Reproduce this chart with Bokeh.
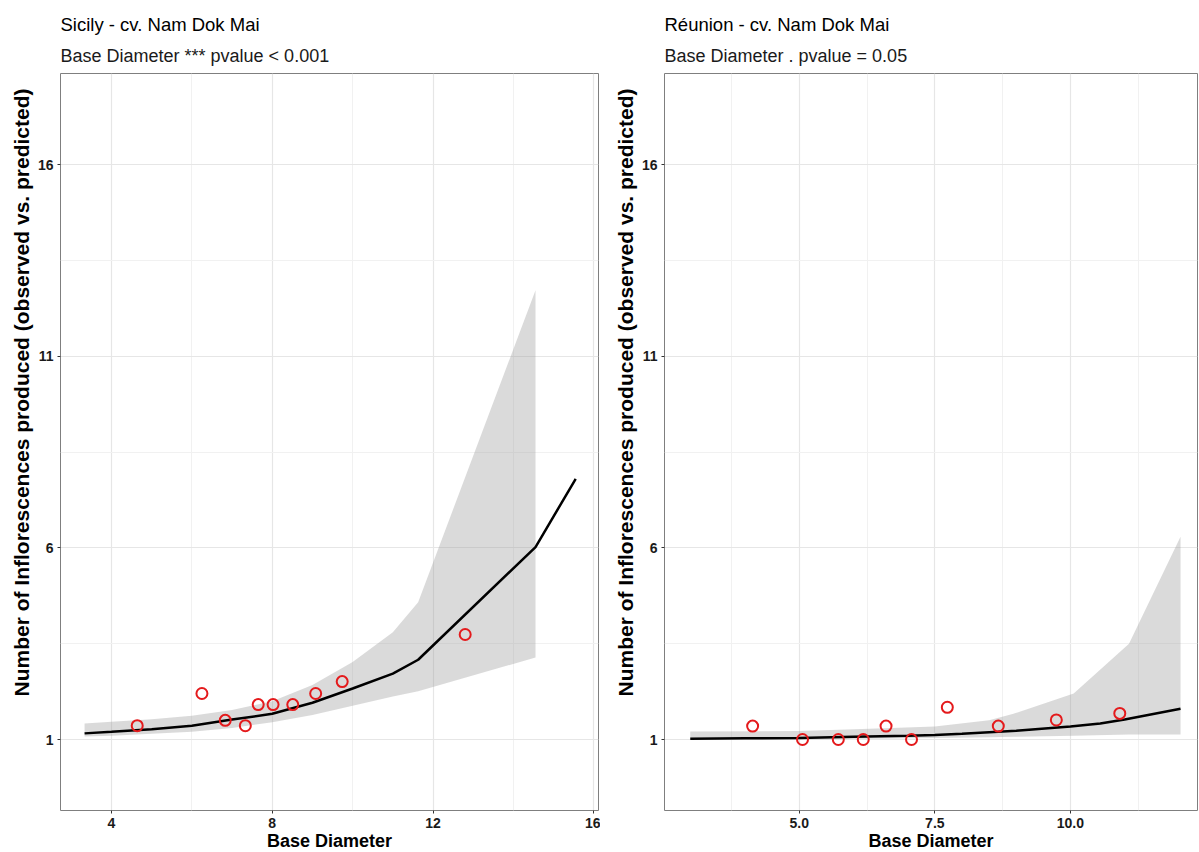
from bokeh.plotting import figure
from bokeh.layouts import row
from bokeh.models import FixedTicker, Range1d, Title, NumeralTickFormatter
from bokeh.embed import file_html
from bokeh.resources import INLINE

# ---------------- data: Sicily ----------------
sic_line_x = [3.33, 4.0, 5.0, 6.0, 7.0, 8.0, 9.0, 10.0, 11.0, 11.63, 14.55, 15.55]
sic_line_y = [1.16, 1.20, 1.27, 1.36, 1.52, 1.67, 1.96, 2.33, 2.72, 3.08, 6.02, 7.80]
sic_band_x = [3.33, 4.0, 5.0, 6.0, 7.0, 8.0, 9.0, 10.0, 11.0, 11.63, 14.55]
sic_band_hi = [1.42, 1.46, 1.53, 1.62, 1.77, 2.00, 2.42, 3.02, 3.80, 4.58, 12.72]
sic_band_lo = [1.08, 1.10, 1.15, 1.20, 1.30, 1.45, 1.64, 1.88, 2.12, 2.26, 3.14]
sic_obs_x = [4.64, 6.25, 6.83, 7.33, 7.65, 8.02, 8.51, 9.08, 9.74, 12.80]
sic_obs_y = [1.36, 2.20, 1.50, 1.36, 1.91, 1.91, 1.91, 2.20, 2.51, 3.74]

# ---------------- data: Réunion ----------------
reu_line_x = [2.99, 4.0, 5.0, 6.0, 7.0, 7.5, 8.0, 8.67, 9.0, 10.0, 10.55, 11.0, 12.03]
reu_line_y = [1.02, 1.03, 1.04, 1.07, 1.10, 1.12, 1.15, 1.20, 1.23, 1.34, 1.42, 1.52, 1.80]
reu_band_x = [2.99, 5.0, 6.3, 7.5, 8.5, 8.95, 10.06, 11.08, 12.03]
reu_band_hi = [1.21, 1.22, 1.28, 1.34, 1.50, 1.67, 2.20, 3.50, 6.29]
reu_band_lo = [1.00, 1.00, 1.02, 1.04, 1.06, 1.07, 1.10, 1.13, 1.13]
reu_obs_x = [4.14, 5.06, 5.72, 6.18, 6.60, 7.07, 7.73, 8.67, 9.74, 10.91]
reu_obs_y = [1.35, 1.00, 1.00, 1.00, 1.35, 1.00, 1.84, 1.35, 1.51, 1.68]

y_major = [1, 6, 11, 16]
y_minor = [3.5, 8.5, 13.5]

Y_LABEL = "Number of Inflorescences produced (observed vs. predicted)"
X_LABEL = "Base Diameter"
FONT = "Liberation Sans"
RED = "#E41A1C"


def make_panel(title, subtitle, xr, x_major, x_minor, left_border, frame_w,
               bx, bhi, blo, lx, ly, ox, oy, x_fmt=None):
    p = figure(width=left_border + frame_w + 2, height=852,
               frame_width=frame_w, frame_height=737,
               min_border_left=left_border, min_border_right=2,
               min_border_top=73, min_border_bottom=42,
               x_range=Range1d(*xr), y_range=Range1d(-0.852, 18.374),
               output_backend="svg", toolbar_location=None)
    p.add_layout(Title(text=subtitle, text_font=FONT, text_font_size="18px",
                       text_font_style="normal", text_color="#1a1a1a",
                       standoff=16, align="left"), "above")
    p.add_layout(Title(text=title, text_font=FONT, text_font_size="18.5px",
                       text_font_style="normal", text_color="#000000",
                       standoff=2, align="left"), "above")

    p.background_fill_color = "white"
    p.border_fill_color = "white"
    p.outline_line_color = "#7f7f7f"
    p.outline_line_width = 1

    p.xaxis.ticker = FixedTicker(ticks=x_major, minor_ticks=x_minor)
    p.yaxis.ticker = FixedTicker(ticks=y_major, minor_ticks=y_minor)
    if x_fmt is not None:
        p.xaxis.formatter = x_fmt

    for ax in (p.xaxis[0], p.yaxis[0]):
        ax.axis_line_color = None
        ax.major_tick_line_color = "#333333"
        ax.major_tick_out = 3
        ax.major_tick_in = 0
        ax.minor_tick_line_color = None
        ax.major_label_text_font = FONT
        ax.major_label_text_font_size = "14px"
        ax.major_label_text_font_style = "bold"
        ax.major_label_text_color = "#1a1a1a"
        ax.major_label_standoff = 3
        ax.axis_label_text_font = FONT
        ax.axis_label_text_font_style = "bold"
        ax.axis_label_text_color = "#000000"
    p.xaxis.axis_label = X_LABEL
    p.xaxis.axis_label_text_font_size = "18px"
    p.xaxis.axis_label_standoff = 0
    p.yaxis.axis_label = None
    p.add_layout(Title(text=Y_LABEL, text_font=FONT, text_font_size="21px",
                       text_font_style="bold", text_color="#000000",
                       align="right", offset=15, standoff=4), "left")

    p.grid.grid_line_color = "#E6E6E6"
    p.grid.grid_line_width = 1.2
    p.grid.minor_grid_line_color = "#F1F1F1"
    p.grid.minor_grid_line_width = 1

    p.varea(x=bx, y1=blo, y2=bhi, fill_color="#999999", fill_alpha=0.36)
    p.line(x=lx, y=ly, line_color="black", line_width=2.5)
    p.scatter(x=ox, y=oy, marker="circle", size=11, fill_color=None,
              line_color=RED, line_width=2)
    return p


p1 = make_panel("Sicily - cv. Nam Dok Mai", "Base Diameter *** pvalue < 0.001",
                (2.731, 16.117), [4, 8, 12, 16], [6, 10, 14], 60, 538,
                sic_band_x, sic_band_hi, sic_band_lo,
                sic_line_x, sic_line_y, sic_obs_x, sic_obs_y)

p2 = make_panel("Réunion - cv. Nam Dok Mai", "Base Diameter . pvalue = 0.05",
                (2.515, 12.343), [5.0, 7.5, 10.0], [3.75, 6.25, 8.75, 11.25], 64, 533,
                reu_band_x, reu_band_hi, reu_band_lo,
                reu_line_x, reu_line_y, reu_obs_x, reu_obs_y,
                x_fmt=NumeralTickFormatter(format="0.0"))

layout = row(p1, p2)
open("out.html", "w").write(file_html(layout, INLINE))
